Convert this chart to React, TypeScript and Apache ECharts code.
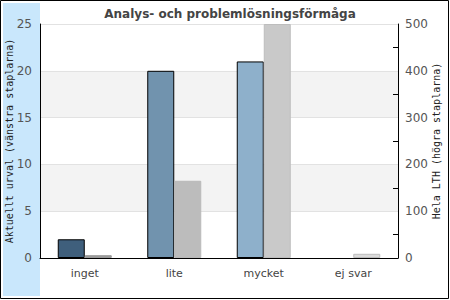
import React, { useEffect, useRef } from "react";
import * as echarts from "echarts";

const categories = ["inget", "lite", "mycket", "ej svar"];
const leftValues = [2, 20, 21, 0];
const rightValues = [6, 165, 500, 9];
const leftColors = ["#3f5f7c", "#7193ae", "#8eb0cb", "#a9c6dc"];
const rightColors = ["#9c9c9c", "#bcbcbc", "#c9c9c9", "#dadada"];
const rightBorders = ["#999999", "#b8b8b8", "#bdbdbd", "#bdbdbd"];
const title = "Analys- och problemlösningsförmåga";
const leftName = "Aktuellt urval (vänstra staplarna)";
const rightName = "Hela LTH (högra staplarna)";

export default function App() {
  const ref = useRef<HTMLDivElement>(null);
  useEffect(() => {
    if (!ref.current) return;
    const chart = echarts.init(ref.current, undefined, { renderer: "svg" });
    chart.setOption({
      animation: false,
      backgroundColor: "#ffffff",
      title: {
        text: title,
        left: 225,
        textAlign: "center",
        top: 3,
        textStyle: { fontFamily: "DejaVu Sans", fontWeight: "bold", fontSize: 12, color: "#444444" },
      },
      graphic: [
        { type: "rect", z: -10, shape: { x: 3, y: 3, width: 37, height: 293 }, style: { fill: "#c9e7fc" } },
        { type: "rect", z: 100, shape: { x: 0.5, y: 0.5, width: 448, height: 298 }, style: { fill: "none", stroke: "#000", lineWidth: 1 } },
        {
          type: "text",
          x: 9,
          y: 141,
          rotation: Math.PI / 2,
          style: { text: leftName, fontFamily: "DejaVu Sans Mono", fontSize: 10, fill: "#222", align: "center", verticalAlign: "middle" },
        },
        {
          type: "text",
          x: 436,
          y: 141,
          rotation: Math.PI / 2,
          style: { text: rightName, fontFamily: "DejaVu Sans Mono", fontSize: 10, fill: "#222", align: "center", verticalAlign: "middle" },
        },
      ],
      grid: { left: 40, right: 52, top: 24, bottom: 42, containLabel: false, outerBoundsMode: "none" },
      xAxis: {
        type: "category",
        data: categories,
        axisLine: { lineStyle: { color: "#000", width: 1 } },
        axisTick: { show: false },
        axisLabel: { fontFamily: "DejaVu Sans", fontSize: 11, color: "#444", margin: 10 },
      },
      yAxis: [
        {
          type: "value",
          min: 0,
          max: 25,
          interval: 5,
          axisLine: { show: true, lineStyle: { color: "#000", width: 1 } },
          axisTick: { show: false },
          axisLabel: { fontFamily: "DejaVu Sans", fontSize: 12, color: "#555", margin: 8 },
          splitLine: { show: true, lineStyle: { color: "#e2e2e2" } },
          splitArea: { show: true, areaStyle: { color: ["#ffffff", "#f3f3f3"] } },
        },
        {
          type: "value",
          min: 0,
          max: 500,
          interval: 100,
          axisLine: { show: true, lineStyle: { color: "#000", width: 1 } },
          axisTick: { show: true, inside: true, length: 0, lineStyle: { color: "#000", width: 0 } },
          minorTick: { show: true, splitNumber: 2, length: 5, lineStyle: { color: "#000", width: 1 } },
          axisLabel: { fontFamily: "DejaVu Sans", fontSize: 12, color: "#555", margin: 7 },
          splitLine: { show: false },
        },
      ],
      series: [
        {
          type: "bar",
          yAxisIndex: 0,
          barWidth: 27,
          barGap: "0%",
          data: leftValues.map((v, i) => ({
            value: v,
            itemStyle: { color: leftColors[i], borderColor: "#000", borderWidth: v > 0 ? 1 : 0 },
          })),
        },
        {
          type: "bar",
          yAxisIndex: 1,
          barWidth: 27,
          barGap: "0%",
          data: rightValues.map((v, i) => ({
            value: v,
            itemStyle: { color: rightColors[i], borderColor: rightBorders[i], borderWidth: 1 },
          })),
        },
      ],
    });
    return () => chart.dispose();
  }, []);
  return <div ref={ref} style={{ width: 450, height: 300, position: "absolute", left: 0, top: 0 }} />;
}
